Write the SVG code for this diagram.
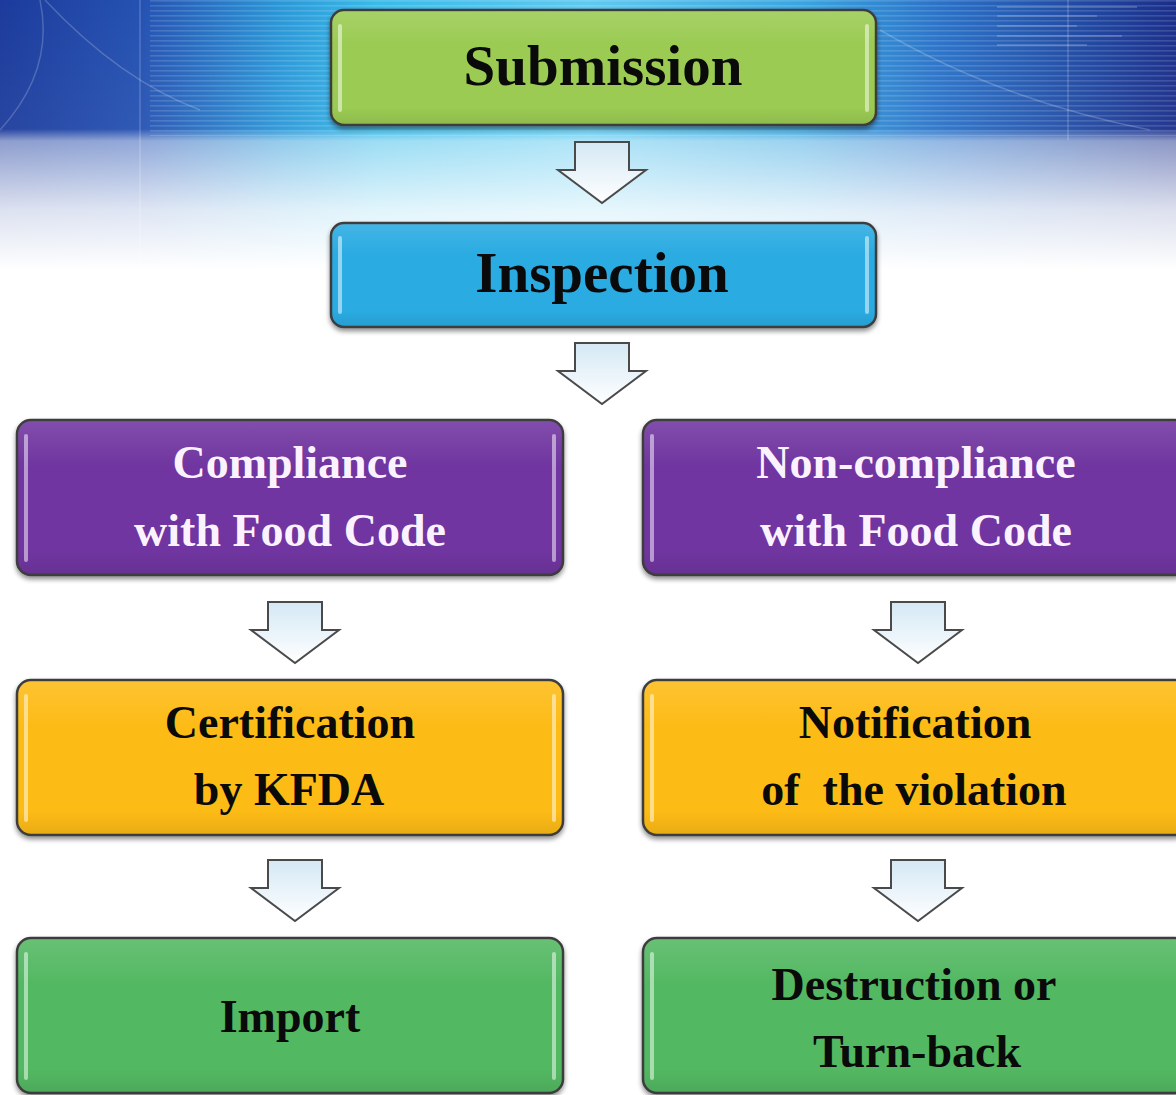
<svg xmlns="http://www.w3.org/2000/svg" width="1176" height="1095" viewBox="0 0 1176 1095">
  <style>
    .box { stroke: #3c3c3c; stroke-width: 2.5; filter: url(#shadow); }
    .hl { stroke: #ffffff; stroke-opacity: 0.5; stroke-width: 4; stroke-linecap: round; fill: none; }
    .gloss { fill: url(#gloss); stroke: none; }
    .t { font-family: "Liberation Serif", "Times New Roman", serif; font-weight: bold; text-anchor: middle; }
    .big { font-size: 57px; }
    .mid { font-size: 46px; }
    .dark { fill: #0a0a0a; }
    .light { fill: #fbf2ff; }
    .arrow { fill: url(#arrowFill); stroke: #4a4a4a; stroke-width: 2; stroke-linejoin: miter; }
  </style>
  <defs>
    <linearGradient id="topBand" x1="0" y1="0" x2="1" y2="0">
      <stop offset="0" stop-color="#1c3b9c"/>
      <stop offset="0.12" stop-color="#2552b2"/>
      <stop offset="0.24" stop-color="#2b98d8"/>
      <stop offset="0.32" stop-color="#3abbe9"/>
      <stop offset="0.5" stop-color="#5fcaf0"/>
      <stop offset="0.68" stop-color="#3aa6e0"/>
      <stop offset="0.8" stop-color="#2a72c8"/>
      <stop offset="1" stop-color="#1a2e8a"/>
    </linearGradient>
    <linearGradient id="fade" x1="0" y1="0" x2="0" y2="1">
      <stop offset="0" stop-color="#ffffff" stop-opacity="0"/>
      <stop offset="0.43" stop-color="#ffffff" stop-opacity="0.05"/>
      <stop offset="0.47" stop-color="#ffffff" stop-opacity="0.5"/>
      <stop offset="0.7" stop-color="#ffffff" stop-opacity="0.85"/>
      <stop offset="0.9" stop-color="#ffffff" stop-opacity="1"/>
    </linearGradient>
    <pattern id="stripes" width="8" height="5" patternUnits="userSpaceOnUse">
      <rect x="0" y="0" width="8" height="1.6" fill="#ffffff" fill-opacity="0.14"/>
    </pattern>
    <linearGradient id="gloss" x1="0" y1="0" x2="0" y2="1">
      <stop offset="0" stop-color="#ffffff" stop-opacity="0.12"/>
      <stop offset="0.3" stop-color="#ffffff" stop-opacity="0"/>
      <stop offset="0.85" stop-color="#000000" stop-opacity="0"/>
      <stop offset="1" stop-color="#000000" stop-opacity="0.08"/>
    </linearGradient>
    <linearGradient id="arrowFill" x1="0" y1="0" x2="0" y2="1">
      <stop offset="0" stop-color="#d4e8f4"/>
      <stop offset="0.6" stop-color="#eef6fb"/>
      <stop offset="1" stop-color="#ffffff"/>
    </linearGradient>
    <filter id="shadow" x="-5%" y="-10%" width="110%" height="125%">
      <feGaussianBlur in="SourceAlpha" stdDeviation="2.5"/>
      <feOffset dx="0" dy="3" result="b"/>
      <feComponentTransfer><feFuncA type="linear" slope="0.45"/></feComponentTransfer>
      <feMerge><feMergeNode/><feMergeNode in="SourceGraphic"/></feMerge>
    </filter>
    <path id="arr" d="M -27 0 L 27 0 L 27 28 L 44 28 L 0 61 L -44 28 L -27 28 Z"/>
  </defs>

  <!-- background -->
  <rect x="0" y="0" width="1176" height="1095" fill="#ffffff"/>
  <rect x="0" y="0" width="1176" height="300" fill="url(#topBand)"/>
  <rect x="150" y="0" width="1026" height="136" fill="url(#stripes)"/>
  <g fill="none" stroke="#ffffff" stroke-opacity="0.2" stroke-width="1.5">
    <path d="M 40 0 Q 55 70 0 130"/>
    <path d="M 45 0 Q 120 80 200 110"/>
    <path d="M 880 30 Q 1000 100 1150 130"/>
    <line x1="140" y1="0" x2="140" y2="300"/>
    <line x1="1068" y1="0" x2="1068" y2="140"/>
  </g>
  <g fill="#ffffff" fill-opacity="0.18">
    <rect x="997" y="6" width="140" height="2"/>
    <rect x="997" y="15" width="100" height="2"/>
    <rect x="997" y="25" width="80" height="2"/>
    <rect x="997" y="35" width="125" height="2"/>
    <rect x="997" y="44" width="90" height="2"/>
  </g>
  <rect x="0" y="0" width="1176" height="300" fill="url(#fade)"/>

  <!-- connectors -->
  <g id="connectors">
    <use href="#arr" x="602" y="142" class="arrow"/>
    <use href="#arr" x="602" y="343" class="arrow"/>
    <use href="#arr" x="295" y="602" class="arrow"/>
    <use href="#arr" x="918" y="602" class="arrow"/>
    <use href="#arr" x="295" y="860" class="arrow"/>
    <use href="#arr" x="918" y="860" class="arrow"/>
  </g>

  <!-- nodes -->
  <g id="submission">
    <rect class="box" x="331" y="10" width="545" height="115" rx="13" fill="#9bcb53"/>
    <rect class="gloss" x="332" y="11" width="543" height="113" rx="12"/>
    <line class="hl" x1="340" y1="26" x2="340" y2="110"/>
    <line class="hl" x1="867" y1="26" x2="867" y2="110"/>
    <text class="t big dark" x="603" y="85">Submission</text>
  </g>

  <g id="inspection">
    <rect class="box" x="331" y="223" width="545" height="104" rx="13" fill="#2aabe2"/>
    <rect class="gloss" x="332" y="224" width="543" height="102" rx="12"/>
    <line class="hl" x1="340" y1="238" x2="340" y2="312"/>
    <line class="hl" x1="867" y1="238" x2="867" y2="312"/>
    <text class="t big dark" x="602" y="292">Inspection</text>
  </g>

  <g id="compliance">
    <rect class="box" x="17" y="420" width="546" height="155" rx="14" fill="#7034a0"/>
    <rect class="gloss" x="18" y="421" width="544" height="153" rx="13"/>
    <line class="hl" x1="26" y1="436" x2="26" y2="560"/>
    <line class="hl" x1="554" y1="436" x2="554" y2="560"/>
    <text class="t mid light" x="290" y="478">Compliance</text>
    <text class="t mid light" x="290" y="546">with Food Code</text>
  </g>

  <g id="noncompliance">
    <rect class="box" x="643" y="420" width="546" height="155" rx="14" fill="#7034a0"/>
    <rect class="gloss" x="644" y="421" width="544" height="153" rx="13"/>
    <line class="hl" x1="652" y1="436" x2="652" y2="560"/>
    <text class="t mid light" x="916" y="478">Non-compliance</text>
    <text class="t mid light" x="916" y="546">with Food Code</text>
  </g>

  <g id="certification">
    <rect class="box" x="17" y="680" width="546" height="155" rx="14" fill="#fdbb14"/>
    <rect class="gloss" x="18" y="681" width="544" height="153" rx="13"/>
    <line class="hl" x1="26" y1="696" x2="26" y2="820"/>
    <line class="hl" x1="554" y1="696" x2="554" y2="820"/>
    <text class="t mid dark" x="290" y="738">Certification</text>
    <text class="t mid dark" x="289" y="805">by KFDA</text>
  </g>

  <g id="notification">
    <rect class="box" x="643" y="680" width="546" height="155" rx="14" fill="#fdbb14"/>
    <rect class="gloss" x="644" y="681" width="544" height="153" rx="13"/>
    <line class="hl" x1="652" y1="696" x2="652" y2="820"/>
    <text class="t mid dark" x="915" y="738">Notification</text>
    <text class="t mid dark" x="914" y="805" xml:space="preserve">of  the violation</text>
  </g>

  <g id="import">
    <rect class="box" x="17" y="938" width="546" height="155" rx="14" fill="#52b862"/>
    <rect class="gloss" x="18" y="939" width="544" height="153" rx="13"/>
    <line class="hl" x1="26" y1="954" x2="26" y2="1078"/>
    <line class="hl" x1="554" y1="954" x2="554" y2="1078"/>
    <text class="t mid dark" x="290" y="1032">Import</text>
  </g>

  <g id="destruction">
    <rect class="box" x="643" y="938" width="546" height="155" rx="14" fill="#52b862"/>
    <rect class="gloss" x="644" y="939" width="544" height="153" rx="13"/>
    <line class="hl" x1="652" y1="954" x2="652" y2="1078"/>
    <text class="t mid dark" x="914" y="1000">Destruction or</text>
    <text class="t mid dark" x="917" y="1067">Turn-back</text>
  </g>
</svg>
